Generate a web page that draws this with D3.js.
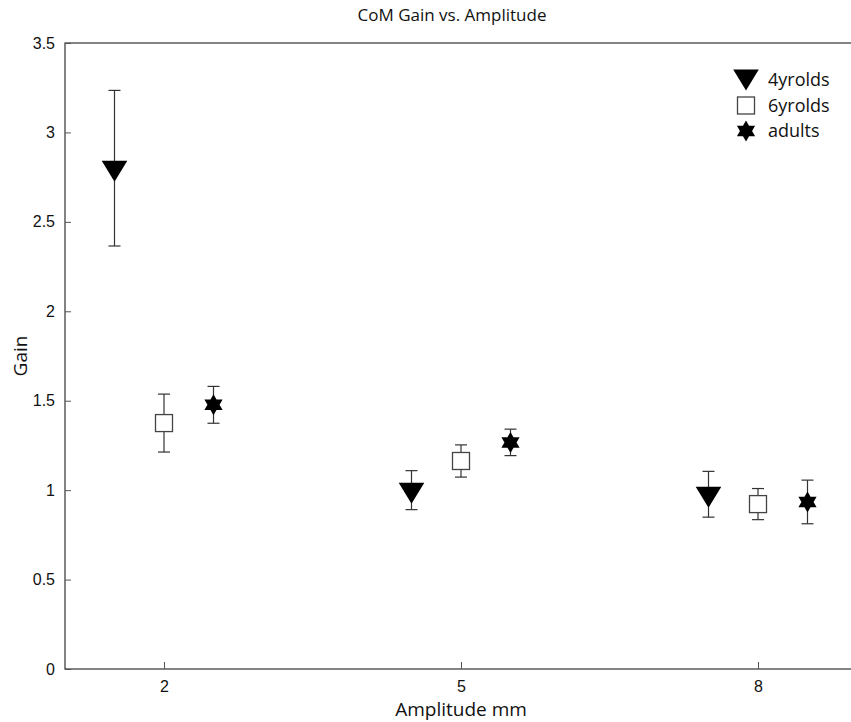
<!DOCTYPE html>
<html>
<head>
<meta charset="utf-8">
<script src="https://cdn.jsdelivr.net/npm/d3@7"></script>
<style>
  body { margin: 0; background: #fff; }
  svg { display: block; font-family: "Open Sans", "Noto Sans", sans-serif; }
</style>
</head>
<body>
<svg id="chart"></svg>
<script>
// DATA
const amplitudes = [2, 5, 8];
const groupNames = ["4yrolds", "6yrolds", "adults"];
const groupOffsets = [-0.5, 0, 0.5];   // in amplitude units
const gain4yr = [2.80, 1.00, 0.977];
const err4yr = [0.435, 0.109, 0.128];
const gain6yr = [1.375, 1.163, 0.922];
const err6yr = [0.162, 0.090, 0.087];
const gainAdults = [1.477, 1.267, 0.934];
const errAdults = [0.103, 0.074, 0.122];
const yTicks = [0, 0.5, 1, 1.5, 2, 2.5, 3, 3.5];

const W = 851, H = 722;
const margin = {top: 43, left: 65, right: -6, bottom: 53};
const width = W - margin.left - margin.right;
const height = H - margin.top - margin.bottom;

const svg = d3.select("#chart").attr("width", W).attr("height", H);
const g = svg.append("g").attr("transform", `translate(${margin.left},${margin.top})`);

const x = d3.scaleLinear().domain([1, 9]).range([0, width]);
const y = d3.scaleLinear().domain([0, 3.5]).range([height, 0]);

// frame
g.append("rect")
  .attr("x", 0).attr("y", 0).attr("width", width).attr("height", height)
  .attr("fill", "none").attr("stroke", "#333").attr("stroke-width", 1.2);

// axes (ticks inward)
const yAxis = g.append("g")
  .call(d3.axisLeft(y).tickValues(yTicks).tickSize(-6).tickPadding(10).tickFormat(d3.format("")));
const xAxis = g.append("g").attr("transform", `translate(0,${height})`)
  .call(d3.axisBottom(x).tickValues(amplitudes).tickSize(-7).tickPadding(12));
[yAxis, xAxis].forEach(a => {
  a.select(".domain").remove();
  a.selectAll(".tick line").attr("stroke", "#555");
  a.selectAll("text").attr("font-size", 16).attr("fill", "#111");
});

// series table
const series = [
  {name: groupNames[0], shape: "tri", gains: gain4yr, errs: err4yr, off: groupOffsets[0]},
  {name: groupNames[1], shape: "square", gains: gain6yr, errs: err6yr, off: groupOffsets[1]},
  {name: groupNames[2], shape: "star", gains: gainAdults, errs: errAdults, off: groupOffsets[2]}
];

const points = [];
series.forEach(s => {
  amplitudes.forEach((a, i) => {
    points.push({shape: s.shape, x: a + s.off, v: s.gains[i], e: s.errs[i]});
  });
});

// marker drawing helpers
function hexagram(r) {
  const pts = [];
  const ri = r / Math.sqrt(3);
  for (let k = 0; k < 12; k++) {
    const ang = -Math.PI / 2 + k * Math.PI / 6;
    const rr = k % 2 === 0 ? r : ri;
    pts.push([rr * Math.cos(ang), rr * Math.sin(ang)]);
  }
  return "M" + pts.map(p => p.join(",")).join("L") + "Z";
}
const triPath = "M-12.8,-7.5L12.8,-7.5L0,13.5Z";

function drawMarker(sel, shape) {
  if (shape === "tri") {
    sel.append("path").attr("d", triPath).attr("fill", "#000");
  } else if (shape === "square") {
    sel.append("rect").attr("x", -8.5).attr("y", -8.5).attr("width", 17).attr("height", 17)
      .attr("fill", "#fff").attr("stroke", "#444").attr("stroke-width", 1.3);
  } else {
    sel.append("path").attr("d", hexagram(10.5)).attr("fill", "#000");
  }
}

// error bars
const eb = g.selectAll(".errbar").data(points).enter().append("g")
  .attr("class", "errbar")
  .attr("stroke", "#333").attr("stroke-width", 1.2);
eb.append("line")
  .attr("x1", d => x(d.x)).attr("x2", d => x(d.x))
  .attr("y1", d => y(d.v + d.e)).attr("y2", d => y(d.v - d.e));
eb.append("line")
  .attr("x1", d => x(d.x) - 6).attr("x2", d => x(d.x) + 6)
  .attr("y1", d => y(d.v + d.e)).attr("y2", d => y(d.v + d.e));
eb.append("line")
  .attr("x1", d => x(d.x) - 6).attr("x2", d => x(d.x) + 6)
  .attr("y1", d => y(d.v - d.e)).attr("y2", d => y(d.v - d.e));

// markers
g.selectAll(".marker").data(points).enter().append("g")
  .attr("class", "marker")
  .attr("transform", d => `translate(${x(d.x)},${y(d.v)})`)
  .each(function(d){ drawMarker(d3.select(this), d.shape); });

// legend
const legend = svg.append("g").attr("transform", "translate(746,80)");
series.forEach((s, i) => {
  const row = legend.append("g").attr("transform", `translate(0,${i * 25.5})`);
  const m = row.append("g").attr("transform", s.shape === "tri" ? "translate(0,-3)" : null);
  drawMarker(m, s.shape);
  row.append("text").attr("x", 22).attr("y", 6)
    .attr("font-size", 18).attr("fill", "#111").text(s.name);
});

// titles
svg.append("text").attr("x", 452).attr("y", 21)
  .attr("text-anchor", "middle").attr("font-size", 17).attr("fill", "#111")
  .text("CoM Gain vs. Amplitude");
svg.append("text").attr("x", x(5) + margin.left).attr("y", 716)
  .attr("text-anchor", "middle").attr("font-size", 19).attr("fill", "#111")
  .text("Amplitude mm");
svg.append("text")
  .attr("transform", `translate(27,${margin.top + height / 2}) rotate(-90)`)
  .attr("text-anchor", "middle").attr("font-size", 19).attr("fill", "#111")
  .text("Gain");
</script>
</body>
</html>
